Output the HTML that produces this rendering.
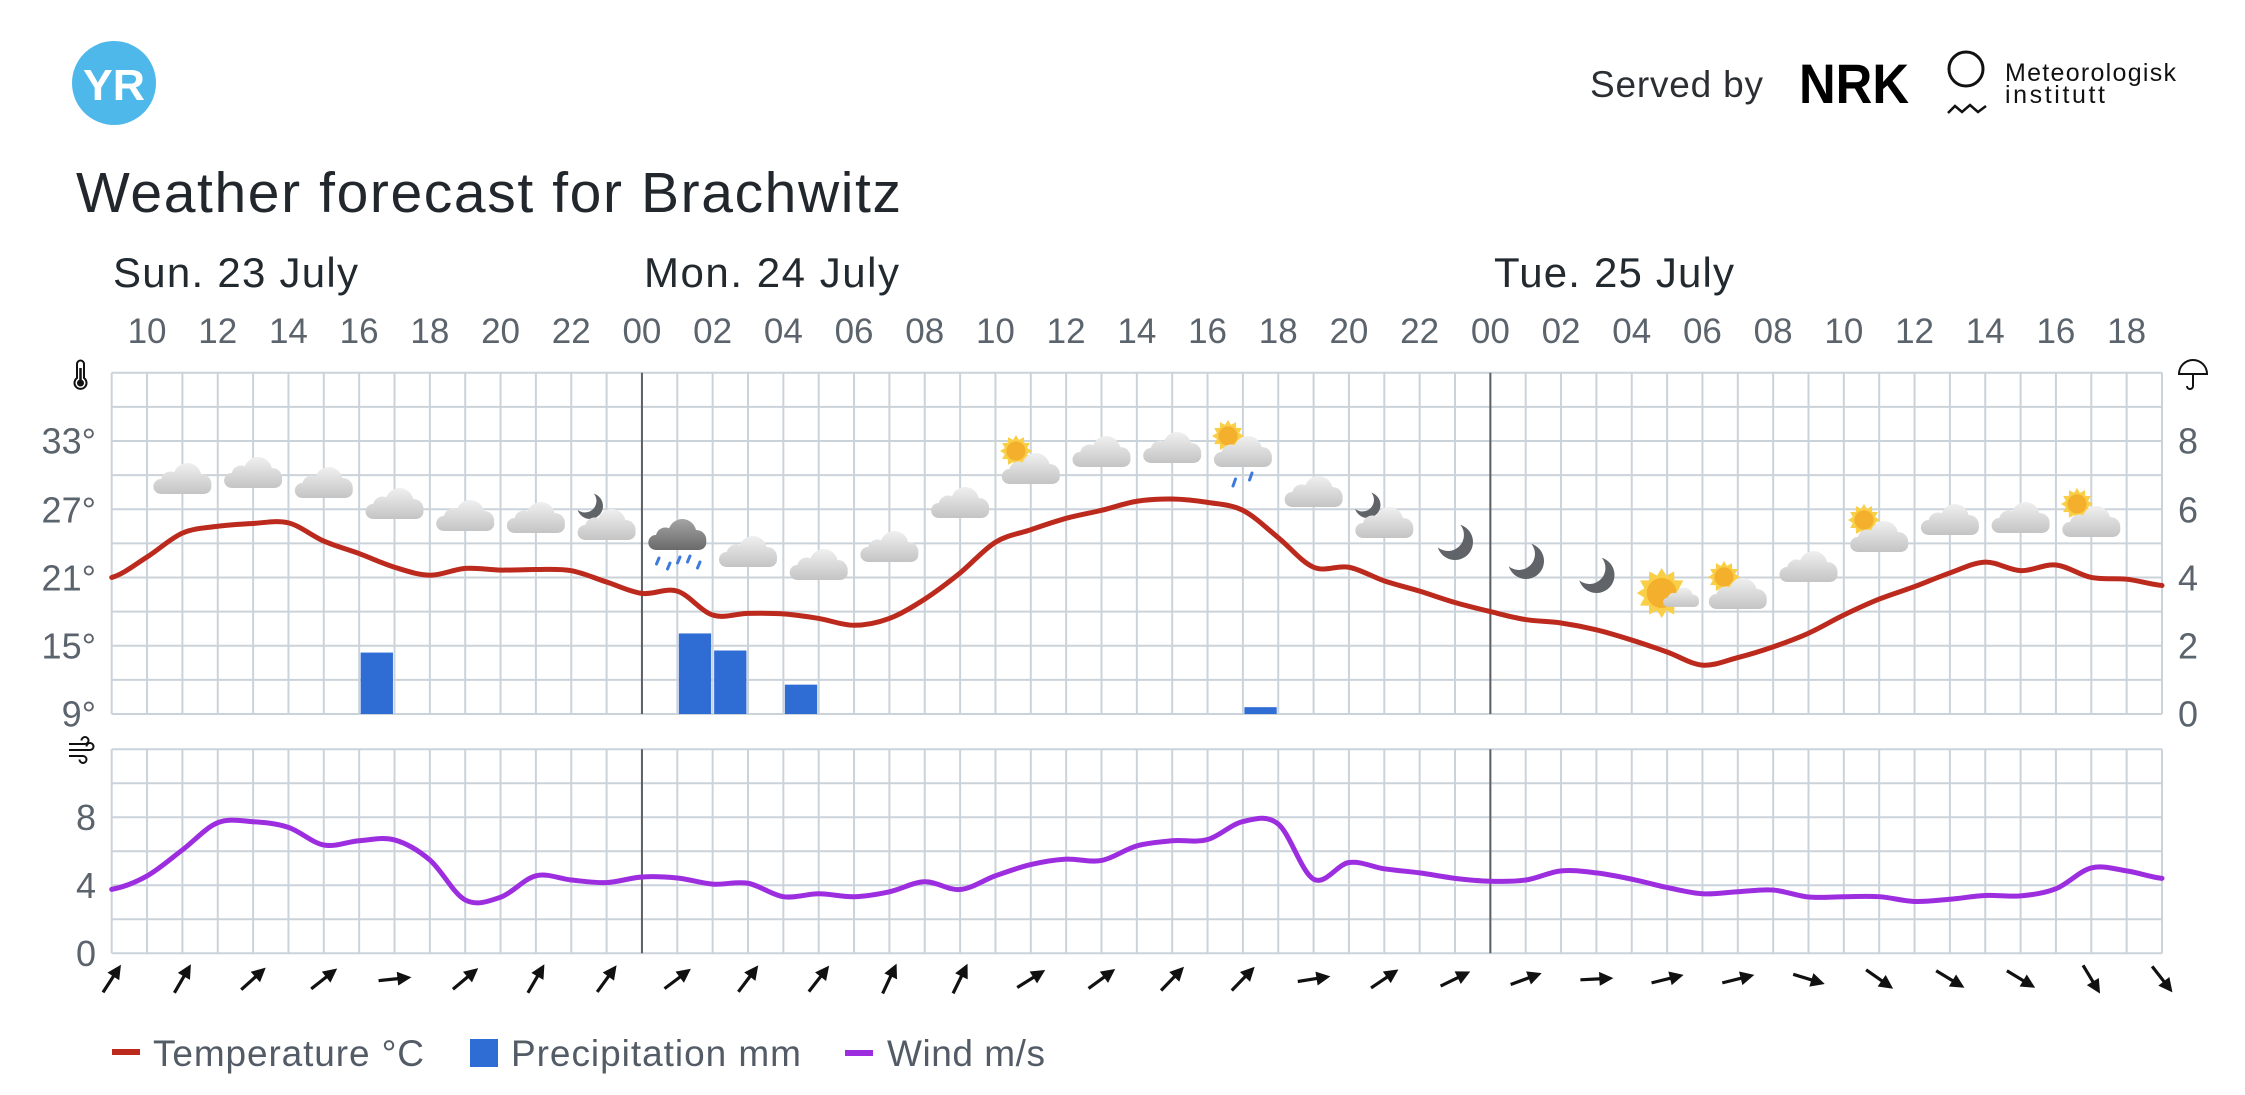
<!DOCTYPE html>
<html><head><meta charset="utf-8">
<style>html,body{margin:0;padding:0;background:#fff;}svg{display:block;}</style>
</head><body>
<svg xmlns="http://www.w3.org/2000/svg" width="2245" height="1095" viewBox="0 0 2245 1095" font-family="'Liberation Sans', Arial, sans-serif">
<defs>
  <linearGradient id="gc" gradientUnits="userSpaceOnUse" x1="0" y1="0" x2="0" y2="32">
    <stop offset="0" stop-color="#f1f1f1"/><stop offset="1" stop-color="#c4c4c4"/>
  </linearGradient>
  <linearGradient id="gd" gradientUnits="userSpaceOnUse" x1="0" y1="0" x2="0" y2="32">
    <stop offset="0" stop-color="#a6a6a6"/><stop offset="1" stop-color="#6a6a6a"/>
  </linearGradient>
  <g id="cl" fill="url(#gc)">
    <circle cx="34" cy="15" r="14"/><circle cx="17" cy="19" r="9.5"/><circle cx="48" cy="22" r="10"/>
    <rect x="0" y="17" width="58" height="15" rx="7.5"/>
  </g>
  <g id="cld" fill="url(#gd)">
    <circle cx="34" cy="15" r="14"/><circle cx="17" cy="19" r="9.5"/><circle cx="48" cy="22" r="10"/>
    <rect x="0" y="17" width="58" height="15" rx="7.5"/>
  </g>
  <g id="sun">
    <polygon fill="#f9cf48" points="1,0 0.695,0.186 0.866,0.5 0.509,0.509 0.5,0.866 0.186,0.695 0,1 -0.186,0.695 -0.5,0.866 -0.509,0.509 -0.866,0.5 -0.695,0.186 -1,0 -0.695,-0.186 -0.866,-0.5 -0.509,-0.509 -0.5,-0.866 -0.186,-0.695 0,-1 0.186,-0.695 0.5,-0.866 0.509,-0.509 0.866,-0.5 0.695,-0.186"/>
    <circle r="0.6" fill="#f4b02c"/>
  </g>
  <path id="moon" d="M5.32,-17.2 A18,18 0 1 1 -17.2,5.32 A16,16 0 0 0 5.32,-17.2Z" fill="#606469"/>
  <g id="ar"><path d="M-16,0H5" stroke="#111" stroke-width="3.2"/><polygon points="17,0 3,-7 3,7" fill="#111"/></g>
</defs>

<rect width="2245" height="1095" fill="#fff"/>

<!-- Header -->
<circle cx="114" cy="83" r="42" fill="#4fb8ea"/>
<text x="114" y="100" font-size="44" font-weight="bold" fill="#fff" text-anchor="middle" textLength="62" lengthAdjust="spacingAndGlyphs">YR</text>

<text x="1590" y="97" font-size="37" fill="#2b2f33" textLength="173">Served by</text>
<text x="1799" y="103" font-size="56" font-weight="bold" fill="#000" textLength="110" lengthAdjust="spacingAndGlyphs">NRK</text>
<circle cx="1966" cy="69" r="17" fill="none" stroke="#111" stroke-width="3"/>
<path d="M1948,113 L1955,106 L1962,112 L1970,105 L1978,112 L1986,106" fill="none" stroke="#111" stroke-width="2.5"/>
<text x="2005" y="81" font-size="25" fill="#111" textLength="171">Meteorologisk</text>
<text x="2005" y="103" font-size="25" fill="#111" textLength="100">institutt</text>

<text x="76" y="212" font-size="57" fill="#21272c" textLength="825">Weather forecast for Brachwitz</text>

<!-- Day labels -->
<g font-size="42" fill="#222a30">
  <text x="113" y="287" textLength="245">Sun. 23 July</text>
  <text x="644" y="287" textLength="255">Mon. 24 July</text>
  <text x="1494" y="287" textLength="240">Tue. 25 July</text>
</g>

<!-- Hour labels -->
<g font-size="35" fill="#5b636c" text-anchor="middle">
  <text x="147.05" y="343">10</text><text x="217.75" y="343">12</text><text x="288.45" y="343">14</text>
  <text x="359.15" y="343">16</text><text x="429.85" y="343">18</text><text x="500.55" y="343">20</text>
  <text x="571.25" y="343">22</text><text x="641.95" y="343">00</text><text x="712.65" y="343">02</text>
  <text x="783.35" y="343">04</text><text x="854.05" y="343">06</text><text x="924.75" y="343">08</text>
  <text x="995.45" y="343">10</text><text x="1066.15" y="343">12</text><text x="1136.85" y="343">14</text>
  <text x="1207.55" y="343">16</text><text x="1278.25" y="343">18</text><text x="1348.95" y="343">20</text>
  <text x="1419.65" y="343">22</text><text x="1490.35" y="343">00</text><text x="1561.05" y="343">02</text>
  <text x="1631.75" y="343">04</text><text x="1702.45" y="343">06</text><text x="1773.15" y="343">08</text>
  <text x="1843.85" y="343">10</text><text x="1914.55" y="343">12</text><text x="1985.25" y="343">14</text>
  <text x="2055.95" y="343">16</text><text x="2126.65" y="343">18</text>
</g>

<!-- axis icons -->
<g fill="none" stroke="#111" stroke-width="2">
  <path d="M77,378 V364 A3.5,3.5 0 0 1 84,364 V378 A6,6 0 1 1 77,378 Z"/>
  <path d="M80.5,368 V383" stroke-width="2.5"/>
  <circle cx="80.5" cy="383" r="2.5" fill="#111"/>
  <path d="M69,744 H85 A3.5,3.5 0 1 0 81.5,740.5"/>
  <path d="M69,750 H90 A3.5,3.5 0 1 0 86.5,746.5"/>
  <path d="M69,756 H83 A3.5,3.5 0 1 1 79.5,759.5"/>
  <path d="M2179,374 A14,14 0 0 1 2207,374 Z"/>
  <path d="M2193,374 V386 A3,3 0 0 1 2187,386"/>
</g>

<!-- Left Y labels -->
<g font-size="36" fill="#5b636c" text-anchor="end">
  <text x="96" y="453.6">33°</text>
  <text x="96" y="522.6">27°</text>
  <text x="96" y="590.3">21°</text>
  <text x="96" y="658.6">15°</text>
  <text x="96" y="726.6">9°</text>
  <text x="96" y="829.9">8</text>
  <text x="96" y="897.9">4</text>
  <text x="96" y="965.9">0</text>
</g>
<g font-size="36" fill="#5b636c">
  <text x="2178" y="453.6">8</text>
  <text x="2178" y="522.6">6</text>
  <text x="2178" y="590.3">4</text>
  <text x="2178" y="658.6">2</text>
  <text x="2178" y="726.6">0</text>
</g>

<!-- Grids -->
<g transform="translate(111.7,372.7) scale(35.35,34.13)" fill="none" stroke="#cbd3da" stroke-width="2">
  <path vector-effect="non-scaling-stroke" d="M0 0V10M1 0V10M2 0V10M3 0V10M4 0V10M5 0V10M6 0V10M7 0V10M8 0V10M9 0V10M10 0V10M11 0V10M12 0V10M13 0V10M14 0V10M15 0V10M16 0V10M17 0V10M18 0V10M19 0V10M20 0V10M21 0V10M22 0V10M23 0V10M24 0V10M25 0V10M26 0V10M27 0V10M28 0V10M29 0V10M30 0V10M31 0V10M32 0V10M33 0V10M34 0V10M35 0V10M36 0V10M37 0V10M38 0V10M39 0V10M40 0V10M41 0V10M42 0V10M43 0V10M44 0V10M45 0V10M46 0V10M47 0V10M48 0V10M49 0V10M50 0V10M51 0V10M52 0V10M53 0V10M54 0V10M55 0V10M56 0V10M57 0V10M58 0V10"/>
  <path vector-effect="non-scaling-stroke" d="M0 0H58M0 1H58M0 2H58M0 3H58M0 4H58M0 5H58M0 6H58M0 7H58M0 8H58M0 9H58M0 10H58"/>
</g>
<g transform="translate(111.7,749.3) scale(35.35,34)" fill="none" stroke="#cbd3da" stroke-width="2">
  <path vector-effect="non-scaling-stroke" d="M0 0V6M1 0V6M2 0V6M3 0V6M4 0V6M5 0V6M6 0V6M7 0V6M8 0V6M9 0V6M10 0V6M11 0V6M12 0V6M13 0V6M14 0V6M15 0V6M16 0V6M17 0V6M18 0V6M19 0V6M20 0V6M21 0V6M22 0V6M23 0V6M24 0V6M25 0V6M26 0V6M27 0V6M28 0V6M29 0V6M30 0V6M31 0V6M32 0V6M33 0V6M34 0V6M35 0V6M36 0V6M37 0V6M38 0V6M39 0V6M40 0V6M41 0V6M42 0V6M43 0V6M44 0V6M45 0V6M46 0V6M47 0V6M48 0V6M49 0V6M50 0V6M51 0V6M52 0V6M53 0V6M54 0V6M55 0V6M56 0V6M57 0V6M58 0V6"/>
  <path vector-effect="non-scaling-stroke" d="M0 0H58M0 1H58M0 2H58M0 3H58M0 4H58M0 5H58M0 6H58"/>
</g>

<!-- Day separators -->
<g stroke="#5c6167" stroke-width="2">
  <path d="M641.95,372.7V714M641.95,749.3V953.3M1490.35,372.7V714M1490.35,749.3V953.3"/>
</g>

<!-- Precipitation bars -->
<g fill="#2f6cd4">
  <rect x="360.65" y="652.57" width="32.3" height="61.43"/>
  <rect x="678.8" y="633.45" width="32.3" height="80.55"/>
  <rect x="714.15" y="650.52" width="32.3" height="63.48"/>
  <rect x="784.85" y="684.65" width="32.3" height="29.35"/>
  <rect x="1244.4" y="707.17" width="32.3" height="6.83"/>
</g>

<!-- Temperature curve -->
<g transform="translate(111.7,816.4) scale(35.35,-11.377)">
<path vector-effect="non-scaling-stroke" fill="none" stroke="#bc2a1e" stroke-width="5" stroke-linecap="round" stroke-linejoin="round" d="M0,21 C0.333,21.3 0.667,22.15 1,22.8 C1.333,23.45 1.667,24.45 2,24.9 C2.333,25.35 2.667,25.358 3,25.5 C3.333,25.642 3.667,25.7 4,25.75 C4.333,25.8 4.667,26.058 5,25.8 C5.333,25.542 5.667,24.65 6,24.2 C6.333,23.75 6.667,23.483 7,23.1 C7.333,22.717 7.667,22.217 8,21.9 C8.333,21.583 8.667,21.217 9,21.2 C9.333,21.183 9.667,21.725 10,21.8 C10.333,21.875 10.667,21.667 11,21.65 C11.333,21.633 11.667,21.708 12,21.7 C12.333,21.692 12.667,21.783 13,21.6 C13.333,21.417 13.667,20.933 14,20.6 C14.333,20.267 14.667,19.733 15,19.6 C15.333,19.467 15.667,20.117 16,19.8 C16.333,19.483 16.667,18.025 17,17.7 C17.333,17.375 17.667,17.833 18,17.85 C18.333,17.867 18.667,17.875 19,17.8 C19.333,17.725 19.667,17.567 20,17.4 C20.333,17.233 20.667,16.8 21,16.8 C21.333,16.8 21.667,17.017 22,17.4 C22.333,17.783 22.667,18.433 23,19.1 C23.333,19.767 23.667,20.567 24,21.4 C24.333,22.233 24.667,23.467 25,24.1 C25.333,24.733 25.667,24.85 26,25.2 C26.333,25.55 26.667,25.917 27,26.2 C27.333,26.483 27.667,26.65 28,26.9 C28.333,27.15 28.667,27.533 29,27.7 C29.333,27.867 29.667,27.917 30,27.9 C30.333,27.883 30.667,27.767 31,27.6 C31.333,27.433 31.667,27.417 32,26.9 C32.333,26.383 32.667,25.333 33,24.5 C33.333,23.667 33.667,22.333 34,21.9 C34.333,21.467 34.667,22.1 35,21.9 C35.333,21.7 35.667,21.05 36,20.7 C36.333,20.35 36.667,20.117 37,19.8 C37.333,19.483 37.667,19.1 38,18.8 C38.333,18.5 38.667,18.25 39,18 C39.333,17.75 39.667,17.467 40,17.3 C40.333,17.133 40.667,17.15 41,17 C41.333,16.85 41.667,16.65 42,16.4 C42.333,16.15 42.667,15.825 43,15.5 C43.333,15.175 43.667,14.817 44,14.45 C44.333,14.083 44.667,13.382 45,13.3 C45.333,13.218 45.667,13.693 46,13.96 C46.333,14.227 46.667,14.543 47,14.9 C47.333,15.257 47.667,15.633 48,16.1 C48.333,16.567 48.667,17.2 49,17.7 C49.333,18.2 49.667,18.683 50,19.1 C50.333,19.517 50.667,19.817 51,20.2 C51.333,20.583 51.667,21.042 52,21.4 C52.333,21.758 52.667,22.317 53,22.35 C53.333,22.383 53.667,21.642 54,21.6 C54.333,21.558 54.667,22.2 55,22.1 C55.333,22 55.667,21.208 56,21 C56.333,20.792 56.667,20.967 57,20.85 C57.333,20.733 57.667,20.392 58,20.3"/>
</g>

<!-- Wind curve -->
<g transform="translate(111.7,953.3) scale(35.35,-17)">
<path vector-effect="non-scaling-stroke" fill="none" stroke="#9d2ee0" stroke-width="5" stroke-linecap="round" stroke-linejoin="round" d="M0,3.76 C0.333,3.892 0.667,4.163 1,4.55 C1.333,4.937 1.667,5.558 2,6.08 C2.333,6.602 2.667,7.403 3,7.68 C3.333,7.957 3.667,7.785 4,7.74 C4.333,7.695 4.667,7.638 5,7.41 C5.333,7.182 5.667,6.502 6,6.37 C6.333,6.238 6.667,6.57 7,6.62 C7.333,6.67 7.667,6.858 8,6.67 C8.333,6.482 8.667,6.078 9,5.49 C9.333,4.902 9.667,3.505 10,3.14 C10.333,2.775 10.667,3.063 11,3.3 C11.333,3.537 11.667,4.392 12,4.56 C12.333,4.728 12.667,4.377 13,4.31 C13.333,4.243 13.667,4.13 14,4.16 C14.333,4.19 14.667,4.445 15,4.49 C15.333,4.535 15.667,4.5 16,4.43 C16.333,4.36 16.667,4.122 17,4.07 C17.333,4.018 17.667,4.243 18,4.12 C18.333,3.997 18.667,3.433 19,3.33 C19.333,3.227 19.667,3.5 20,3.5 C20.333,3.5 20.667,3.31 21,3.33 C21.333,3.35 21.667,3.473 22,3.62 C22.333,3.767 22.667,4.188 23,4.21 C23.333,4.232 23.667,3.692 24,3.75 C24.333,3.808 24.667,4.315 25,4.56 C25.333,4.805 25.667,5.057 26,5.22 C26.333,5.383 26.667,5.5 27,5.54 C27.333,5.58 27.667,5.33 28,5.46 C28.333,5.59 28.667,6.127 29,6.32 C29.333,6.513 29.667,6.558 30,6.62 C30.333,6.682 30.667,6.502 31,6.69 C31.333,6.878 31.667,7.598 32,7.75 C32.333,7.902 32.667,8.165 33,7.6 C33.333,7.035 33.667,4.737 34,4.36 C34.333,3.983 34.667,5.238 35,5.34 C35.333,5.442 35.667,5.072 36,4.97 C36.333,4.868 36.667,4.823 37,4.73 C37.333,4.637 37.667,4.492 38,4.41 C38.333,4.328 38.667,4.257 39,4.24 C39.333,4.223 39.667,4.208 40,4.31 C40.333,4.412 40.667,4.78 41,4.85 C41.333,4.92 41.667,4.812 42,4.73 C42.333,4.648 42.667,4.503 43,4.36 C43.333,4.217 43.667,4.013 44,3.87 C44.333,3.727 44.667,3.542 45,3.5 C45.333,3.458 45.667,3.583 46,3.62 C46.333,3.657 46.667,3.772 47,3.72 C47.333,3.668 47.667,3.375 48,3.31 C48.333,3.245 48.667,3.327 49,3.33 C49.333,3.333 49.667,3.377 50,3.33 C50.333,3.283 50.667,3.075 51,3.05 C51.333,3.025 51.667,3.122 52,3.18 C52.333,3.238 52.667,3.367 53,3.4 C53.333,3.433 53.667,3.313 54,3.38 C54.333,3.447 54.667,3.527 55,3.8 C55.333,4.073 55.667,4.845 56,5.02 C56.333,5.195 56.667,4.952 57,4.85 C57.333,4.748 57.667,4.483 58,4.41"/>
</g>

<!-- Weather icons -->
<use href="#cl" transform="translate(153.4,462)"/>
<use href="#cl" transform="translate(224.1,456)"/>
<use href="#cl" transform="translate(294.8,466)"/>
<use href="#cl" transform="translate(365.5,487)"/>
<use href="#cl" transform="translate(436.2,499)"/>
<use href="#cl" transform="translate(506.9,501)"/>
<use href="#moon" transform="translate(590,506) scale(0.72)"/>
<use href="#cl" transform="translate(577.6,508)"/>
<use href="#cld" transform="translate(648.3,518)"/>
<g stroke="#3d7ad9" stroke-width="3" stroke-linecap="round">
  <path d="M659,558 L656.5,564 M670,563 L667.5,569 M680,557 L677.5,563 M690,556 L687.5,562 M700,562 L697.5,568"/>
</g>
<use href="#cl" transform="translate(719,535)"/>
<use href="#cl" transform="translate(789.7,548)"/>
<use href="#cl" transform="translate(860.4,530)"/>
<use href="#cl" transform="translate(931.1,486)"/>
<use href="#sun" transform="translate(1016,451) scale(16)"/>
<use href="#cl" transform="translate(1001.8,452)"/>
<use href="#cl" transform="translate(1072.5,435)"/>
<use href="#cl" transform="translate(1143.2,431)"/>
<use href="#sun" transform="translate(1228,436) scale(16)"/>
<use href="#cl" transform="translate(1213.9,435)"/>
<g stroke="#3d7ad9" stroke-width="3" stroke-linecap="round">
  <path d="M1235.5,479 L1233,486 M1252,473 L1249.5,480"/>
</g>
<use href="#cl" transform="translate(1284.6,475)"/>
<use href="#moon" transform="translate(1367.5,505) scale(0.72)"/>
<use href="#cl" transform="translate(1355.3,506)"/>
<use href="#moon" transform="translate(1455,542)"/>
<use href="#moon" transform="translate(1526,561)"/>
<use href="#moon" transform="translate(1596.5,575)"/>
<use href="#sun" transform="translate(1661.7,593) scale(25)"/>
<use href="#cl" transform="translate(1663,587) scale(0.62)"/>
<use href="#sun" transform="translate(1724,577) scale(16)"/>
<use href="#cl" transform="translate(1708.8,577)"/>
<use href="#cl" transform="translate(1779.5,550)"/>
<use href="#sun" transform="translate(1864,520) scale(16)"/>
<use href="#cl" transform="translate(1850.2,520)"/>
<use href="#cl" transform="translate(1920.9,503)"/>
<use href="#cl" transform="translate(1991.6,501)"/>
<use href="#sun" transform="translate(2077,504) scale(16)"/>
<use href="#cl" transform="translate(2062.3,505)"/>

<!-- Wind arrows -->
<use href="#ar" transform="translate(111.7,979) rotate(-57)"/>
<use href="#ar" transform="translate(182.4,979) rotate(-60)"/>
<use href="#ar" transform="translate(253.1,979) rotate(-42)"/>
<use href="#ar" transform="translate(323.8,979) rotate(-38)"/>
<use href="#ar" transform="translate(394.5,979) rotate(-6)"/>
<use href="#ar" transform="translate(465.2,979) rotate(-40)"/>
<use href="#ar" transform="translate(535.9,979) rotate(-60)"/>
<use href="#ar" transform="translate(606.6,979) rotate(-54)"/>
<use href="#ar" transform="translate(677.3,979) rotate(-37)"/>
<use href="#ar" transform="translate(748,979) rotate(-53)"/>
<use href="#ar" transform="translate(818.7,979) rotate(-52)"/>
<use href="#ar" transform="translate(889.4,979) rotate(-65)"/>
<use href="#ar" transform="translate(960.1,979) rotate(-64)"/>
<use href="#ar" transform="translate(1030.8,979) rotate(-32)"/>
<use href="#ar" transform="translate(1101.5,979) rotate(-36)"/>
<use href="#ar" transform="translate(1172.2,979) rotate(-46)"/>
<use href="#ar" transform="translate(1242.9,979) rotate(-46)"/>
<use href="#ar" transform="translate(1313.6,979) rotate(-9)"/>
<use href="#ar" transform="translate(1384.3,979) rotate(-34)"/>
<use href="#ar" transform="translate(1455,979) rotate(-26)"/>
<use href="#ar" transform="translate(1525.7,979) rotate(-20)"/>
<use href="#ar" transform="translate(1596.4,979) rotate(-3)"/>
<use href="#ar" transform="translate(1667.1,979) rotate(-14)"/>
<use href="#ar" transform="translate(1737.8,979) rotate(-14)"/>
<use href="#ar" transform="translate(1808.5,979) rotate(17)"/>
<use href="#ar" transform="translate(1879.2,979) rotate(35)"/>
<use href="#ar" transform="translate(1949.9,979) rotate(31)"/>
<use href="#ar" transform="translate(2020.6,979) rotate(31)"/>
<use href="#ar" transform="translate(2091.3,979) rotate(59)"/>
<use href="#ar" transform="translate(2162,979) rotate(52)"/>

<!-- Legend -->
<rect x="112" y="1049" width="28" height="6" fill="#bc2a1e"/>
<text x="153" y="1066" font-size="37" fill="#535c66" textLength="271">Temperature °C</text>
<rect x="470" y="1039" width="28" height="28" fill="#2f6cd4"/>
<text x="511" y="1066" font-size="37" fill="#535c66" textLength="290">Precipitation mm</text>
<rect x="845" y="1050" width="28" height="6" fill="#9d2ee0"/>
<text x="887" y="1066" font-size="37" fill="#535c66" textLength="158">Wind m/s</text>
</svg>
</body></html>
